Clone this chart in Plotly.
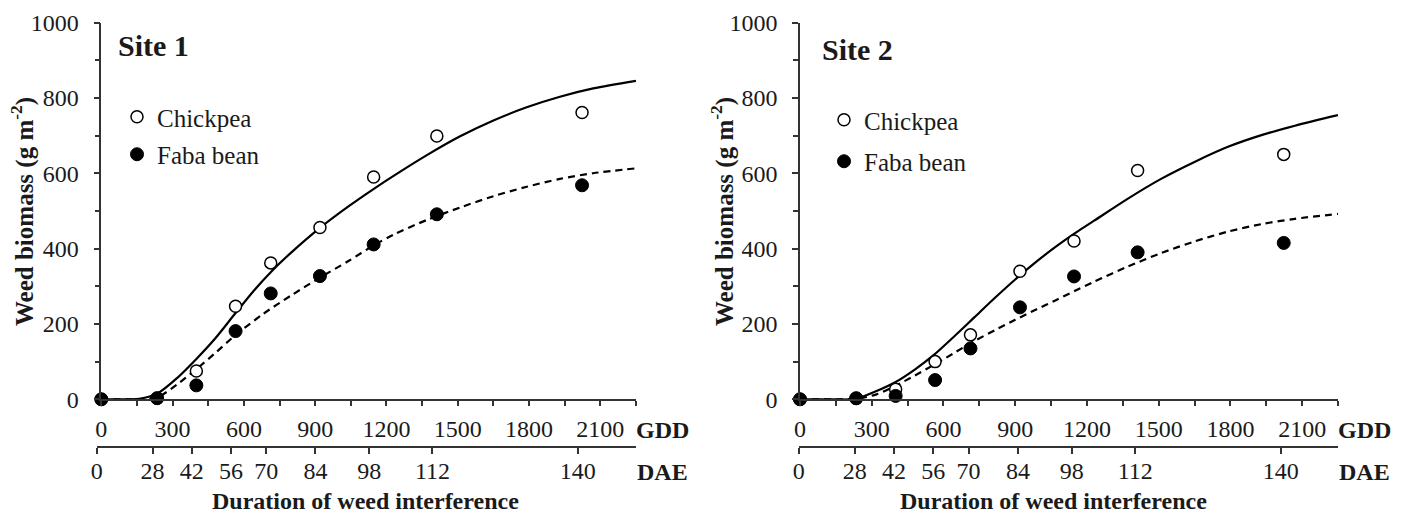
import plotly.graph_objects as go

W, H = 1406, 510

# ---------------- data ----------------
gdd_points = [0, 235, 400, 565, 713, 920, 1146, 1412, 2023]
dae_labels = ["0", "28", "42", "56", "70", "84", "98", "112", "140"]

s1_chickpea = [0, 3, 75, 247, 362, 456, 590, 699, 761]
s1_faba = [0, 3, 37, 181, 281, 327, 411, 491, 568]
s2_chickpea = [0, 2, 27, 100, 171, 340, 420, 607, 650]
s2_faba = [0, 3, 9, 51, 135, 244, 326, 390, 415]

# fitted curves
s1_chick_fit_x = [0, 100, 160, 240, 320, 400, 480, 560, 640, 720, 800, 920, 1040, 1150, 1230, 1370, 1510, 1650, 1790, 1930, 2070, 2250]
s1_chick_fit_y = [0, 0, 1, 17, 57, 107, 162, 225, 287, 342, 390, 455, 512, 560, 593, 648, 698, 740, 775, 803, 825, 845]
s1_faba_fit_x = [0, 100, 200, 240, 320, 400, 480, 560, 680, 800, 920, 1040, 1150, 1230, 1370, 1510, 1650, 1790, 1930, 2070, 2250]
s1_faba_fit_y = [0, 0, 1, 6, 40, 80, 123, 168, 226, 276, 323, 367, 410, 437, 476, 509, 539, 564, 585, 600, 613]
s2_chick_fit_x = [0, 100, 230, 320, 400, 480, 560, 650, 730, 820, 900, 990, 1070, 1150, 1230, 1370, 1510, 1650, 1790, 1930, 2070, 2250]
s2_chick_fit_y = [0, 0, 1, 22, 46, 79, 118, 170, 218, 272, 318, 366, 405, 441, 474, 532, 585, 630, 670, 701, 726, 754]
s2_faba_fit_x = [0, 100, 240, 320, 400, 480, 570, 650, 730, 820, 900, 990, 1070, 1150, 1230, 1370, 1510, 1650, 1790, 1930, 2070, 2250]
s2_faba_fit_y = [0, 0, 2, 13, 36, 63, 95, 125, 155, 185, 211, 239, 263, 288, 312, 352, 388, 419, 445, 465, 479, 492]

series_names = ["Chickpea", "Faba bean"]
site_titles = ["Site 1", "Site 2"]
y_title = "Weed biomass (g m<sup>-2</sup>)"
x_title = "Duration of weed interference"

# ---------------- styling ----------------
SERIF = "Liberation Serif, Times New Roman, Times, serif"
AX = "#333333"
TXT = "#1a1a1a"


def px(x):
    return x / W


def py(y):
    return 1 - y / H


fig = go.Figure()

panels = [
    dict(xa="x", ya="y", xd="x3", leg="legend",
         chick=s1_chickpea, faba=s1_faba,
         cfx=s1_chick_fit_x, cfy=s1_chick_fit_y, ffx=s1_faba_fit_x, ffy=s1_faba_fit_y),
    dict(xa="x2", ya="y2", xd="x4", leg="legend2",
         chick=s2_chickpea, faba=s2_faba,
         cfx=s2_chick_fit_x, cfy=s2_chick_fit_y, ffx=s2_faba_fit_x, ffy=s2_faba_fit_y),
]

for p in panels:
    fig.add_trace(go.Scatter(x=p["cfx"], y=p["cfy"], mode="lines", xaxis=p["xa"], yaxis=p["ya"],
                             line=dict(color="black", width=2.2, shape="spline", smoothing=0.8),
                             showlegend=False, hoverinfo="skip", cliponaxis=False))
    fig.add_trace(go.Scatter(x=p["ffx"], y=p["ffy"], mode="lines", xaxis=p["xa"], yaxis=p["ya"],
                             line=dict(color="black", width=2.2, dash="7px,5px", shape="spline", smoothing=0.8),
                             showlegend=False, hoverinfo="skip", cliponaxis=False))
    fig.add_trace(go.Scatter(x=gdd_points, y=p["chick"], mode="markers", xaxis=p["xa"], yaxis=p["ya"],
                             name=series_names[0], legend=p["leg"], legendgroup=p["leg"] + "a",
                             marker=dict(symbol="circle", size=12, color="white",
                                         line=dict(color="black", width=1.5)),
                             cliponaxis=False))
    fig.add_trace(go.Scatter(x=gdd_points, y=p["faba"], mode="markers", xaxis=p["xa"], yaxis=p["ya"],
                             name=series_names[1], legend=p["leg"], legendgroup=p["leg"] + "b",
                             marker=dict(symbol="circle", size=13, color="black",
                                         line=dict(color="black", width=1)),
                             cliponaxis=False))
    # invisible trace to attach the DAE axis
    fig.add_trace(go.Scatter(x=[None], y=[None], xaxis=p["xd"], yaxis=p["ya"], showlegend=False,
                             hoverinfo="skip"))

tickfont = dict(family=SERIF, size=24, color=TXT)


def gdd_axis(dom, anchor):
    return dict(domain=dom, anchor=anchor, range=[0, 2250], tick0=0, dtick=300,
                showline=True, linecolor=AX, linewidth=1.5, ticks="outside", ticklen=5,
                tickwidth=1.5, tickcolor=AX, tickfont=tickfont, showgrid=False, zeroline=False,
                ticklabelstandoff=2, automargin=False,
                minor=dict(dtick=150, ticks="outside", ticklen=5, tickwidth=1.5, tickcolor=AX,
                           showgrid=False))


def y_axis(dom, anchor):
    return dict(domain=dom, anchor=anchor, range=[0, 1000], tick0=0, dtick=200,
                showline=True, linecolor=AX, linewidth=1.5, ticks="outside", ticklen=6,
                tickwidth=1.5, tickcolor=AX, tickfont=tickfont, showgrid=False, zeroline=False,
                ticklabelstandoff=10, automargin=False,
                minor=dict(dtick=100, ticks="outside", ticklen=5, tickwidth=1.5, tickcolor=AX,
                           showgrid=False))


def dae_axis(dom, rng):
    return dict(domain=dom, anchor="free", position=py(447), range=rng,
                tickvals=gdd_points, ticktext=dae_labels,
                showline=True, linecolor=AX, linewidth=1.5, ticks="outside", ticklen=6,
                tickwidth=1.5, tickcolor=AX, tickfont=tickfont, showgrid=False, zeroline=False,
                ticklabelstandoff=-4, automargin=False)


ydom = [py(399.3), py(22.5)]
fig.update_layout(
    width=W, height=H, autosize=False,
    margin=dict(l=0, r=0, t=0, b=0, pad=0),
    paper_bgcolor="white", plot_bgcolor="rgba(0,0,0,0)",
    xaxis=gdd_axis([px(101.3), px(636)], "y"),
    yaxis=y_axis(ydom, "x"),
    xaxis2=gdd_axis([px(800), px(1338)], "y2"),
    yaxis2=y_axis(ydom, "x2"),
    xaxis3=dae_axis([px(96.7), px(636)], [0, 2268]),
    xaxis4=dae_axis([px(798.7), px(1338)], [0, 2263]),
    legend=dict(x=px(117), y=py(94), xanchor="left", yanchor="top", bgcolor="rgba(0,0,0,0)",
                font=dict(family=SERIF, size=25, color=TXT), itemwidth=30, tracegroupgap=2),
    legend2=dict(x=px(824), y=py(97), xanchor="left", yanchor="top", bgcolor="rgba(0,0,0,0)",
                 font=dict(family=SERIF, size=25, color=TXT), itemwidth=30, tracegroupgap=6),
)

ann = []
# site titles
for xl, yc, t in [(116, 45, site_titles[0]), (820, 50, site_titles[1])]:
    ann.append(dict(x=px(xl), y=py(yc), xref="paper", yref="paper", xanchor="left", yanchor="middle",
                    text="<b>%s</b>" % t, showarrow=False,
                    font=dict(family=SERIF, size=30, color=TXT)))
# y titles
for xc in [22, 722]:
    ann.append(dict(x=px(xc), y=py(212), xref="paper", yref="paper", xanchor="center", yanchor="middle",
                    text="<b>%s</b>" % y_title, textangle=-90, showarrow=False,
                    font=dict(family=SERIF, size=25, color=TXT)))
# GDD / DAE unit labels
for xc in [662, 1364]:
    ann.append(dict(x=px(xc), y=py(430), xref="paper", yref="paper", xanchor="center", yanchor="middle",
                    text="<b>GDD</b>", showarrow=False, font=dict(family=SERIF, size=24, color=TXT)))
    ann.append(dict(x=px(xc), y=py(472), xref="paper", yref="paper", xanchor="center", yanchor="middle",
                    text="<b>DAE</b>", showarrow=False, font=dict(family=SERIF, size=24, color=TXT)))
# x titles
for xc in [365, 1053]:
    ann.append(dict(x=px(xc), y=py(501), xref="paper", yref="paper", xanchor="center", yanchor="middle",
                    text="<b>%s</b>" % x_title, showarrow=False,
                    font=dict(family=SERIF, size=24, color=TXT)))
fig.update_layout(annotations=ann)

fig.write_html("out.html",
               post_script="document.body.style.margin='0';document.body.style.overflow='hidden';")
